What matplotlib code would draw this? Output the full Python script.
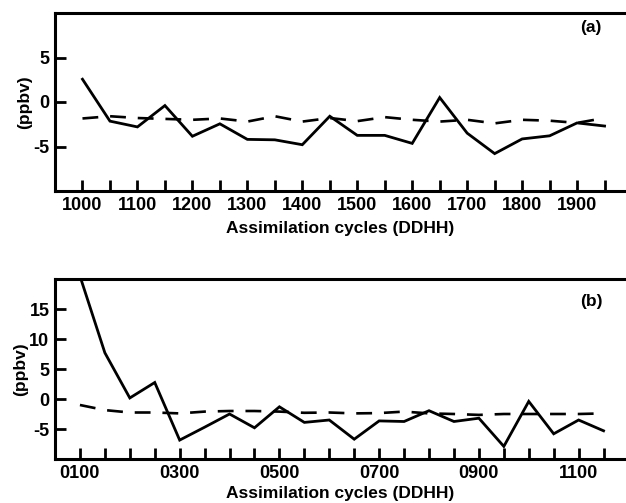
import matplotlib
matplotlib.use("Agg")
import matplotlib.pyplot as plt

plt.rcParams['font.family'] = ['Liberation Sans', 'DejaVu Sans']

# Panel (a)
a_labels = ["1000", "1100", "1200", "1300", "1400", "1500", "1600", "1700", "1800", "1900"]
a_solid = [2.56, -2.15, -2.8, -0.4, -3.85, -2.45, -4.2, -4.25, -4.8, -1.6,
           -3.75, -3.75, -4.65, 0.5, -3.5, -5.8, -4.15, -3.8, -2.35, -2.7]
a_dashed = [-1.85, -1.6, -1.8, -1.9, -2.0, -1.85, -2.2, -1.6, -2.2, -1.8,
            -2.15, -1.7, -2.0, -2.2, -2.0, -2.4, -2.0, -2.1, -2.35, -1.8]

# Panel (b)
b_labels = ["0100", "0300", "0500", "0700", "0900", "1100"]
b_solid = [20.5, 7.7, 0.17, 2.75, -6.85, -4.7, -2.5, -4.8, -1.3, -3.9, -3.5,
           -6.7, -3.65, -3.75, -1.95, -3.75, -3.2, -7.9, -0.4, -5.8, -3.5, -5.3]
b_dashed = [-1.0, -1.85, -2.25, -2.25, -2.4, -2.1, -2.0, -2.0, -2.1, -2.3, -2.25,
            -2.4, -2.35, -2.1, -2.4, -2.5, -2.65, -2.5, -2.5, -2.5, -2.5, -2.4]

W, H = 626, 503
fig = plt.figure(figsize=(W / 100, H / 100), dpi=100)

def frac(left, top, right, bottom):
    return [left / W, (H - bottom) / H, (right - left) / W, (bottom - top) / H]

ax1 = fig.add_axes(frac(55, 13, 626, 191))
ax2 = fig.add_axes(frac(55, 279, 626, 459))

def style(ax, solid, dashed, labels, label_step, xlim, ylim, yticks, tag, tagpos, xlpad):
    x = list(range(len(solid)))
    ax.plot(x, solid, color='black', lw=2.0, solid_joinstyle='miter')
    ax.plot(x, dashed, color='black', lw=1.9, dashes=(6, 4.5))
    ax.set_xlim(*xlim)
    ax.set_ylim(*ylim)
    ax.set_xticks(x)
    lbls = []
    for i in x:
        if i % label_step == 0 and i // label_step < len(labels):
            lbls.append(labels[i // label_step])
        else:
            lbls.append("")
    ax.set_xticklabels(lbls)
    ax.set_yticks(yticks)
    ax.set_yticklabels([str(v) for v in yticks])
    ax.tick_params(axis='both', direction='in', length=8, width=2.0,
                   labelsize=13, pad=4)
    for lab in ax.get_xticklabels() + ax.get_yticklabels():
        lab.set_fontweight('bold')
    for s in ['left', 'bottom', 'top']:
        ax.spines[s].set_linewidth(2.2)
    ax.spines['right'].set_visible(False)
    ax.set_xlabel("Assimilation cycles (DDHH)", fontsize=12.5, fontweight='bold', labelpad=xlpad)
    ax.set_ylabel("(ppbv)", fontsize=12.5, fontweight='bold', labelpad=1)
    ax.text(tagpos[0], tagpos[1], tag, transform=ax.transAxes, ha='center', va='center',
            fontsize=12.5, fontweight='bold')

style(ax1, a_solid, a_dashed, a_labels, 2, (-1, 19.78), (-10, 10), [-5, 0, 5], "(a)", (0.939, 0.92), 5)
style(ax2, b_solid, b_dashed, b_labels, 4, (-1, 21.9), (-10, 20), [-5, 0, 5, 10, 15], "(b)", (0.94, 0.875), 3.5)

fig.savefig("out.png", dpi=100)
